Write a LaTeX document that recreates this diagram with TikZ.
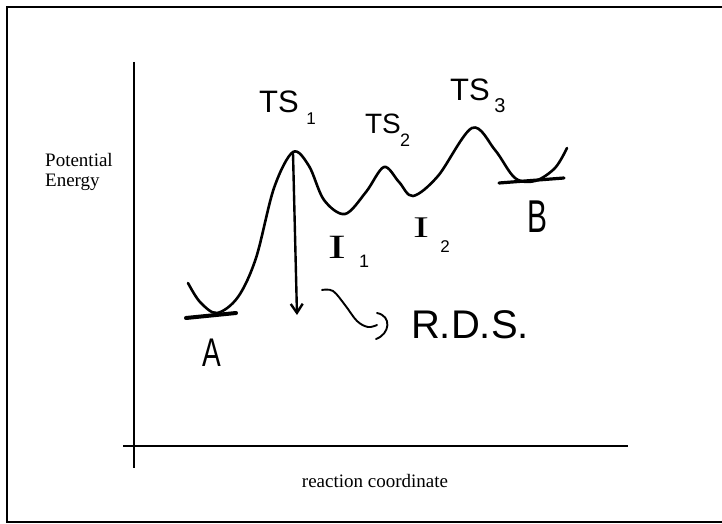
\documentclass[tikz,border=0pt]{standalone}
\usepackage{fontspec}
\usepackage{graphicx}
\setmainfont{Liberation Serif}
\newfontfamily\hand{Liberation Sans}
\usetikzlibrary{arrows.meta}
\tikzset{
  frame/.style={line width=1.3pt},
  axisline/.style={line width=1.2pt},
  ink/.style={line width=2.6pt, line cap=round, line join=round},
  pen/.style={line width=1.9pt, line cap=round, line join=round},
  bar/.style={line width=4pt, line cap=round},
  typed/.style={font=\fontsize{19}{19.5}\selectfont, inner sep=0pt},
  hw/.style={font=\hand\fontsize{#1}{#1}\selectfont, inner sep=0pt},
  hwserif/.style={font=\fontsize{#1}{#1}\selectfont, inner sep=0pt},
}
\begin{document}
\begin{tikzpicture}[x=1pt,y=-1pt]
\useasboundingbox (0,0) rectangle (722,524);
% frame
\draw[frame] (722,7) -- (7,7) -- (7,522) -- (722,522);
% axes
\coordinate (ytop) at (134,62);
\coordinate (ybot) at (134,468);
\coordinate (xl) at (123,446);
\coordinate (xr) at (628,446);
\draw[axisline] (ytop) -- (ybot);
\draw[axisline] (xl) -- (xr);
% axis labels
\node[typed, align=left, anchor=west] (pe) at (45,172) {Potential\\Energy};
\node[typed] (rc) at (375,481) {reaction coordinate};
% energy profile
\draw[ink] plot[smooth, tension=0.55] coordinates {(188,283) (200,302) (217,313) (238,297) (256,258) (274,188) (293,152) (309,166) (324,200) (345,214) (366,192) (384,167) (399,182) (413,196) (438,176) (472,128) (495,150) (515,178) (535,181) (555,168) (567,148)};
% baselines of A and B
\draw[bar] (186,318) -- (236,313);
\draw[bar, line width=3.2pt] (499,183) -- (564,178);
% RDS arrow
\coordinate (ts1) at (293,153);
\coordinate (rdsend) at (297,315);
\draw[pen, line width=2.4pt, -{Straight Barb[length=9pt,width=12pt]}] (ts1) -- (rdsend);
% squiggle arrow
\coordinate (sqa) at (322,290);
\coordinate (sqb) at (377,325);
\draw[pen] plot[smooth, tension=0.6] coordinates {(sqa) (333,291) (345,305) (357,321) (368,327) (sqb)};
\coordinate (pa) at (377,313);
\coordinate (pb) at (376,339);
\draw[pen] (pa) .. controls (392,316) and (390,334) .. (pb);
% labels
\node[hw=31] (ts1l) at (279,102) {TS};
\node[hw=17] (ts1s) at (311,119) {1};
\node[hw=28] (ts2l) at (383,124) {TS};
\node[hw=18] (ts2s) at (405,140) {2};
\node[hw=31] (ts3l) at (470,90) {TS};
\node[hw=20] (ts3s) at (500,106) {3};
\node[hwserif=34] (i1l) at (337,247) {\scalebox{1.6}[1]{I}};
\node[hw=18] (i1s) at (364,261) {1};
\node[hwserif=30] (i2l) at (421,228) {\scalebox{1.6}[1]{I}};
\node[hw=17] (i2s) at (445,247) {2};
\node[hw=40] (al) at (212,353) {\scalebox{0.7}[1]{A}};
\node[hw=46] (bl) at (537,217) {\scalebox{0.65}[1]{B}};
\node[hw=40] (rds) at (470,325) {R.D.S.};
\end{tikzpicture}
\end{document}
